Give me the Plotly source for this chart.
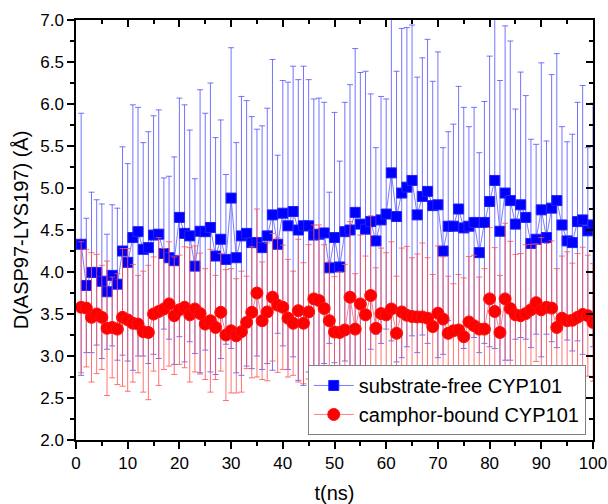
import plotly.graph_objects as go

t_ns = list(range(1, 101))

free_mean = [
    4.33, 3.84, 3.995, 3.995, 3.89, 3.765, 3.96, 3.855, 4.25, 4.115,
    4.41, 4.48, 4.27, 4.29, 4.44, 4.45, 4.22, 4.17, 4.135, 4.65,
    4.46, 4.43, 4.07, 4.485, 4.48, 4.53, 4.19, 4.39, 4.15, 4.88,
    4.17, 4.43, 4.46, 4.35, 4.35, 4.29, 4.43, 4.68, 4.33, 4.70,
    4.55, 4.72, 4.50, 4.55, 4.55, 4.44, 4.45, 4.465, 4.05, 4.41,
    4.06, 4.48, 4.50, 4.71, 4.57, 4.51, 4.60, 4.37, 4.62, 4.69,
    5.18, 4.66, 4.94, 5.01, 5.09, 4.68, 4.90, 4.96, 4.79, 4.80,
    4.25, 4.545, 4.545, 4.75, 4.525, 4.545, 4.59, 4.23, 4.59, 4.84,
    5.09, 4.485, 4.94, 4.85, 4.57, 4.80, 4.65, 4.34, 4.39, 4.74,
    4.41, 4.76, 4.85, 4.56, 4.37, 4.35, 4.60, 4.62, 4.49, 4.56,
]
free_err = [
    1.56, 0.80, 0.955, 0.865, 0.92, 0.685, 0.84, 0.905, 1.24, 1.175,
    1.58, 1.48, 1.27, 1.38, 1.42, 1.48, 0.90, 0.97, 1.235, 1.42,
    1.53, 1.26, 1.04, 1.685, 1.41, 1.72, 1.41, 1.42, 1.01, 1.79,
    1.37, 1.66, 1.58, 1.50, 1.35, 1.45, 1.52, 1.85, 1.06, 1.58,
    1.71, 1.73, 1.79, 1.90, 1.74, 1.62, 1.62, 1.555, 0.90, 1.49,
    1.26, 1.54, 1.73, 1.95, 1.805, 1.88, 1.52, 1.11, 1.47, 1.37,
    2.00, 1.73, 1.96, 1.90, 1.85, 1.64, 1.65, 1.81, 1.48, 1.82,
    1.23, 1.125, 1.215, 1.46, 1.435, 1.185, 1.37, 1.19, 1.44, 1.73,
    2.00, 1.795, 1.99, 1.90, 1.37, 1.58, 1.45, 1.24, 1.13, 1.75,
    1.15, 1.59, 1.75, 1.17, 1.18, 1.29, 1.42, 1.60, 0.99, 1.45,
]

bound_mean = [
    3.58, 3.57, 3.46, 3.50, 3.46, 3.33, 3.34, 3.32, 3.46, 3.43,
    3.39, 3.38, 3.29, 3.28, 3.50, 3.53, 3.56, 3.62, 3.48, 3.55,
    3.58, 3.49, 3.56, 3.505, 3.38, 3.42, 3.34, 3.52, 3.25, 3.30,
    3.24, 3.29, 3.40, 3.52, 3.75, 3.42, 3.525, 3.70, 3.605, 3.58,
    3.45, 3.39, 3.54, 3.39, 3.525, 3.68, 3.66, 3.565, 3.42, 3.285,
    3.28, 3.31, 3.70, 3.32, 3.62, 3.49, 3.72, 3.33, 3.505, 3.49,
    3.56, 3.27, 3.525, 3.485, 3.47, 3.465, 3.465, 3.45, 3.35, 3.51,
    3.44, 3.27, 3.30, 3.31, 3.23, 3.405, 3.36, 3.32, 3.32, 3.68,
    3.53, 3.28, 3.68, 3.565, 3.49, 3.48, 3.505, 3.55, 3.635, 3.55,
    3.58, 3.57, 3.34, 3.45, 3.42, 3.425, 3.46, 3.495, 3.48, 3.40,
]
bound_err = [
    0.78, 0.70, 0.77, 0.71, 0.62, 0.80, 0.60, 0.66, 0.82, 0.85,
    0.70, 0.58, 0.72, 0.80, 0.68, 0.88, 0.72, 0.74, 0.70, 0.65,
    0.72, 0.80, 0.75, 0.72, 0.66, 0.85, 0.62, 0.70, 0.78, 0.74,
    0.68, 0.72, 0.55, 0.78, 1.00, 0.70, 0.82, 0.76, 0.80, 0.74,
    0.70, 0.62, 0.85, 0.72, 0.80, 0.88, 0.90, 0.76, 0.70, 0.66,
    0.72, 0.78, 0.90, 0.66, 0.82, 0.70, 0.95, 0.72, 0.78, 0.74,
    0.80, 0.68, 0.76, 0.82, 0.70, 0.75, 0.88, 0.72, 0.62, 0.80,
    0.74, 0.68, 0.56, 0.66, 0.70, 0.78, 0.84, 0.62, 0.72, 0.85,
    0.76, 0.68, 0.90, 0.80, 0.72, 0.74, 0.82, 0.78, 0.70, 0.86,
    0.76, 0.80, 0.70, 0.74, 0.82, 0.68, 0.76, 0.80, 0.72, 0.70,
]

x_ticks = list(range(0, 101, 10))
y_ticks = [2.0, 2.5, 3.0, 3.5, 4.0, 4.5, 5.0, 5.5, 6.0, 6.5, 7.0]

FONT = "Liberation Sans, Arial, sans-serif"

fig = go.Figure()
fig.add_trace(go.Scatter(
    x=t_ns, y=free_mean, mode="lines+markers", name="substrate-free CYP101",
    line=dict(color="rgba(110,110,255,0.9)", width=1),
    marker=dict(symbol="square", size=10, color="#0000FF",
                line=dict(color="#2020FF", width=1)),
    error_y=dict(type="data", array=free_err, visible=True,
                 color="rgba(80,80,255,0.8)", thickness=1, width=3),
))
fig.add_trace(go.Scatter(
    x=t_ns, y=bound_mean, mode="lines+markers", name="camphor-bound CYP101",
    line=dict(color="rgba(255,120,120,0.9)", width=1),
    marker=dict(symbol="circle", size=12, color="#FF0000",
                line=dict(color="#FF1010", width=1)),
    error_y=dict(type="data", array=bound_err, visible=True,
                 color="rgba(255,80,80,0.8)", thickness=1, width=3),
))
# mirror axes (inside ticks on top / right)
fig.add_trace(go.Scatter(x=[], y=[], xaxis="x2", yaxis="y2", showlegend=False))

axis_common = dict(showline=True, linecolor="black", linewidth=1.5,
                   showgrid=False, zeroline=False, automargin=False)

fig.update_layout(
    width=608, height=504,
    margin=dict(l=76, r=15, t=20, b=64),
    paper_bgcolor="white", plot_bgcolor="white",
    font=dict(family=FONT, color="black", size=17),
    showlegend=True,
    legend=dict(x=0.986, y=0.012, xanchor="right", yanchor="bottom",
                bgcolor="white", bordercolor="#808080", borderwidth=1,
                font=dict(size=20, family=FONT), tracegroupgap=0,
                itemwidth=40),
    xaxis=dict(range=[0, 100], tickmode="array", tickvals=x_ticks,
               ticks="outside", ticklen=7, tickwidth=1.5, tickcolor="black",
               minor=dict(dtick=5, ticks="outside", ticklen=4, tickwidth=1.5, tickcolor="black"),
               title=dict(text="t(ns)", font=dict(size=20), standoff=15),
               tickfont=dict(size=17), **axis_common),
    yaxis=dict(range=[2.0, 7.0], tickmode="array", tickvals=y_ticks,
               tickformat=".1f",
               ticks="outside", ticklen=7, tickwidth=1.5, tickcolor="black",
               minor=dict(dtick=0.25, ticks="outside", ticklen=4, tickwidth=1.5, tickcolor="black"),
               title=dict(text="D(ASP97-LYS197) (Å)", font=dict(size=20), standoff=6),
               tickfont=dict(size=17), **axis_common),
    xaxis2=dict(range=[0, 100], overlaying="x", side="top", matches="x",
                tickmode="array", tickvals=x_ticks, showticklabels=False,
                ticks="inside", ticklen=7, tickwidth=1.5, tickcolor="black",
                minor=dict(dtick=5, ticks="inside", ticklen=4, tickwidth=1.5, tickcolor="black"),
                **axis_common),
    yaxis2=dict(range=[2.0, 7.0], overlaying="y", side="right", matches="y",
                tickmode="array", tickvals=y_ticks, showticklabels=False,
                ticks="inside", ticklen=7, tickwidth=1.5, tickcolor="black",
                minor=dict(dtick=0.25, ticks="inside", ticklen=4, tickwidth=1.5, tickcolor="black"),
                **axis_common),
)

fig.write_html("out.html")
